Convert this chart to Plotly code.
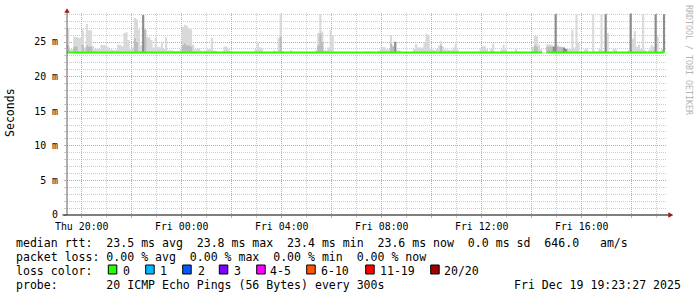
import pandas as pd
import plotly.graph_objects as go

# ---------------- data ----------------
start_time = "2025-12-18 19:25:00"   # first 300 s step
n_steps = 288

# median RTT per 300 s step (ms); None = no data
rtt_median = (
    [23.5] * 12 + [23.5] * 12 + [23.5] * 12 + [23.5] * 12 + [23.5] * 12 + [23.5] * 12 +
    [23.5] * 12 + [23.5] * 12 + [23.5] * 12 + [23.5] * 12 + [23.5] * 12 + [23.5] * 12 +
    [23.5] * 12 + [23.5] * 12 +
    [23.5, 23.5, 23.5, 23.5, 23.5, 23.5, 23.5, 23.5, 23.5, 23.5, 23.4, 23.5] +
    [23.5, 23.5, 23.5, 23.5, 23.5, 23.5, 23.5, 23.5, 23.5, 23.5, 23.5, 23.5] +
    [23.5, 23.5, 23.5, 23.5, 23.5, 23.4, 23.5, 23.5, 23.5, 23.5, 23.5, 23.5] +
    [23.5] * 12 +
    [23.5, 23.5, 23.5, 23.5, 23.5, 23.5, 23.5, 23.5, 23.5, 23.5, 23.5, 23.5] +
    [None, None, 23.5, 23.5, 23.5, 23.5, 23.5, 23.5, 23.5, 23.5, 23.5, 23.5] +
    [23.5] * 12 +
    [23.5, 23.5, 23.5, 23.5, 23.5, 23.5, 23.5, 23.5, 23.5, 23.5, 23.4, 23.5] +
    [23.5] * 12 +
    [23.5, 23.5, 23.5, 23.5, 23.5, 23.5, 23.5, 23.5, 23.5, 23.5, 23.6, None]
)

# highest ping of each step (top of the light smoke), ms
smoke_max = [
    27.0, 24.0, 24.0, 25.8, 25.7, 25.6, 25.6, 26.8, 24.2, 27.6, 26.7, 26.7,
    24.4, 24.0, 23.9, 24.0, 24.6, 24.6, 24.5, 24.3, 24.0, 23.9, 23.8, 23.9,
    24.6, 24.6, 24.4, 26.3, 26.4, 25.3, 24.0, 24.2, 28.5, 28.3, 26.8, 24.5,
    28.9, 26.8, 25.7, 25.7, 25.3, 24.2, 25.7, 24.3, 24.2, 24.9, 24.0, 25.7,
    23.8, 23.9, 23.8, 23.7, 23.7, 23.7, 24.0, 27.2, 27.5, 27.3, 27.0, 26.8,
    24.6, 23.9, 24.0, 24.1, 23.7, 23.7, 23.8, 23.9, 24.0, 25.6, 23.8, 23.7,
    23.6, 23.5, 23.5, 24.3, 24.4, 24.0, 23.7, 23.6, 23.5, 23.5, 23.5, 23.5,
    23.5, 23.5, 23.5, 23.5, 23.5, 23.5, 24.0, 25.0, 24.2, 24.0, 23.5, 23.5,
    23.5, 23.5, 23.5, 23.8, 23.6, 25.6, 29.0, 23.7, 23.5, 23.5, 23.5, 23.8,
    23.5, 23.5, 23.5, 23.5, 23.5, 23.5, 23.5, 23.5, 23.5, 23.5, 23.5, 23.8,
    26.3, 29.0, 26.5, 23.8, 23.8, 24.2, 26.7, 26.0, 23.6, 23.5, 23.5, 23.5,
    23.5, 23.5, 23.5, 23.5, 23.5, 23.5, 23.5, 23.5, 23.5, 23.5, 23.5, 23.5,
    23.7, 23.5, 23.5, 23.5, 23.5, 23.7, 23.9, 24.3, 24.2, 23.9, 24.0, 26.0,
    24.5, 25.1, 23.8, 23.8, 23.5, 23.5, 23.5, 23.5, 23.5, 23.5, 24.0, 24.7,
    24.2, 24.1, 24.2, 25.0, 26.2, 26.0, 24.0, 23.9, 23.8, 24.0, 24.5, 25.1,
    24.3, 23.9, 23.9, 23.8, 23.8, 24.2, 24.7, 23.9, 23.5, 23.5, 23.5, 23.5,
    23.5, 23.5, 23.5, 23.5, 23.5, 23.5, 24.1, 24.4, 24.4, 24.0, 23.5, 24.0,
    24.8, 23.5, 23.5, 23.5, 23.9, 24.6, 23.9, 23.5, 23.5, 23.5, 23.5, 24.0,
    23.5, 23.5, 23.5, 23.5, 23.5, 23.5, 23.5, 24.3, 25.9, 25.8, 24.6, 24.0,
    None, None, 24.7, 24.7, 24.6, 24.5, 29.0, 24.6, 24.4, 24.3, 24.2, 24.0,
    23.9, 24.0, 26.8, 24.2, 29.0, 24.9, 23.5, 23.5, 23.9, 24.1, 23.5, 23.5,
    29.0, 23.6, 23.5, 24.0, 29.0, 23.7, 29.0, 26.3, 23.6, 23.5, 24.0, 23.9,
    23.5, 23.5, 23.5, 23.5, 23.5, 23.8, 29.1, 25.5, 26.6, 24.3, 24.6, 24.0,
    29.0, 23.8, 23.5, 23.9, 24.6, 24.3, 29.0, 25.8, 23.6, 24.0, 29.0, None,
]

# denser (medium grey) smoke: step index -> top (ms)
mid_step = [0, 3, 4, 7, 9, 10, 11, 32, 33, 37, 55, 56, 57, 58, 59, 102, 120, 121,
            122, 155, 156, 179, 224, 225, 230, 231, 232, 235, 236, 237]
mid_top = [24.5, 24.3, 24.3, 24.6, 24.5, 24.3, 24.3, 25.5, 25.0, 26.8, 24.5, 24.8,
           24.5, 24.5, 24.3, 25.8, 24.5, 26.2, 25.0, 24.8, 24.3, 24.5, 24.5, 24.3,
           24.3, 24.4, 24.3, 24.3, 24.3, 24.2]

# densest (dark grey) smoke: step index -> top (ms)
dark_step = [36, 157, 233, 234, 238, 239, 258, 270, 282, 286]
dark_top = [28.9, 25.0, 24.3, 29.0, 24.2, 24.0, 29.0, 29.1, 29.0, 29.0]

loss_labels = ["0", "1", "2", "3", "4-5", "6-10", "11-19", "20/20"]
loss_colors = ["#26ff00", "#00b8ff", "#0059ff", "#7e00ff", "#ff00ff", "#ff5500", "#ff0000", "#a10000"]

y_tick_vals = [0, 5, 10, 15, 20, 25]
y_tick_text = ["0", "5 m", "10 m", "15 m", "20 m", "25 m"]

x_grid_times = ["2025-12-18 20:00", "2025-12-18 22:00", "2025-12-19 00:00", "2025-12-19 02:00",
                "2025-12-19 04:00", "2025-12-19 06:00", "2025-12-19 08:00", "2025-12-19 10:00",
                "2025-12-19 12:00", "2025-12-19 14:00", "2025-12-19 16:00", "2025-12-19 18:00"]
x_grid_text = ["Thu 20:00", "", "Fri 00:00", "", "Fri 04:00", "", "Fri 08:00", "",
               "Fri 12:00", "", "Fri 16:00", ""]

stat_line1 = "median rtt:  23.5 ms avg  23.8 ms max  23.4 ms min  23.6 ms now  0.0 ms sd  646.0   am/s"
stat_line2 = "packet loss: 0.00 % avg  0.00 % max  0.00 % min  0.00 % now"
stat_line3 = "loss color:"
stat_line4 = "probe:       20 ICMP Echo Pings (56 Bytes) every 300s"
stamp_text = "Fri Dec 19 19:23:27 2025"
y_title = "Seconds"
watermark = "RRDTOOL / TOBI OETIKER"

# ---------------- geometry helpers ----------------
W, H = 697, 297
L, R, T, B = 67, 30, 13, 82
PW, PH = W - L - R, H - T - B
MONO = "DejaVu Sans Mono"


def px(x):
    return (x - L) / PW


def py(y):
    return (H - B - y) / PH


edges = list(pd.date_range(start_time, periods=n_steps + 1, freq="5min").strftime("%Y-%m-%d %H:%M:%S"))


def layer_top(steps, tops):
    out = list(rtt_median)
    for s, t in zip(steps, tops):
        out[s] = t
    return out


def stair_polygon(top, base):
    xs, ys = [], []
    k = 0
    while k < n_steps:
        if base[k] is None or top[k] is None:
            k += 1
            continue
        run = []
        while k < n_steps and base[k] is not None and top[k] is not None:
            run.append(k)
            k += 1
        for j in run:
            xs += [edges[j], edges[j + 1]]
            ys += [top[j], top[j]]
        for j in reversed(run):
            xs += [edges[j + 1], edges[j]]
            ys += [base[j], base[j]]
        xs.append(None)
        ys.append(None)
    return xs, ys


def stair_line(vals):
    xs, ys = [], []
    for j, v in enumerate(vals):
        if v is None:
            xs.append(None)
            ys.append(None)
        else:
            xs += [edges[j], edges[j + 1]]
            ys += [v, v]
    return xs, ys


fig = go.Figure()

layers = [
    (smoke_max, "#d9d9d9"),
    (layer_top(mid_step, mid_top), "#bcbcbc"),
    (layer_top(dark_step, dark_top), "#8c8c8c"),
]
for top, col in layers:
    xs, ys = stair_polygon(top, rtt_median)
    fig.add_trace(go.Scatter(x=xs, y=ys, mode="lines", fill="toself", fillcolor=col,
                             line=dict(width=0, color=col), hoverinfo="skip", showlegend=False))

mx, my = stair_line(rtt_median)
fig.add_trace(go.Scatter(x=mx, y=my, mode="lines", line=dict(color=loss_colors[0], width=2),
                         connectgaps=False, hoverinfo="skip", showlegend=False))

ymax = 202 / 6.92

fig.update_layout(
    width=W, height=H, autosize=False,
    margin=dict(l=L, r=R, t=T, b=B, pad=0),
    paper_bgcolor="white", plot_bgcolor="white",
    font=dict(family=MONO, size=10, color="#000"),
    xaxis=dict(
        type="date",
        range=["2025-12-18 19:24:40", "2025-12-19 19:24:40"],
        tickmode="array", tickvals=x_grid_times, ticktext=x_grid_text,
        showgrid=True, gridcolor="#e39a9a", griddash="1px,1px", gridwidth=1,
        ticks="outside", ticklen=2, tickcolor="#e39a9a",
        tickfont=dict(family=MONO, size=9.9, color="#000"),
        ticklabelstandoff=0,
        showline=False, zeroline=False,
        minor=dict(dtick=3600000, tick0="2025-12-18 20:00", showgrid=True,
                   gridcolor="#cccccc", griddash="1px,1px", gridwidth=1,
                   ticks="outside", ticklen=2, tickcolor="#cccccc"),
    ),
    yaxis=dict(
        range=[0, ymax],
        tickmode="array", tickvals=y_tick_vals, ticktext=y_tick_text,
        showgrid=True, gridcolor="#e39a9a", griddash="1px,1px", gridwidth=1,
        ticks="outside", ticklen=2, tickcolor="#e39a9a",
        tickfont=dict(family=MONO, size=9.9, color="#000"),
        ticklabelstandoff=4,
        showline=False, zeroline=False,
        minor=dict(dtick=1, tick0=0, showgrid=True, gridcolor="#cccccc",
                   griddash="1px,1px", gridwidth=1,
                   ticks="outside", ticklen=2, tickcolor="#cccccc"),
    ),
)

shapes = []
# y axis line + arrow
shapes.append(dict(type="line", xref="paper", yref="paper", x0=px(67), x1=px(67), y0=py(215), y1=py(11),
                   line=dict(color="#606060", width=1)))
shapes.append(dict(type="path", xref="paper", yref="paper",
                   path=f"M {px(64.3)},{py(12.8)} L {px(69.7)},{py(12.8)} L {px(67)},{py(8.3)} Z",
                   fillcolor="#9b1c1c", line=dict(width=0)))
# x axis line + arrow
shapes.append(dict(type="line", xref="paper", yref="paper", x0=px(62.5), x1=px(669), y0=py(215), y1=py(215),
                   line=dict(color="#000000", width=1)))
shapes.append(dict(type="path", xref="paper", yref="paper",
                   path=f"M {px(668.3)},{py(212.3)} L {px(668.3)},{py(217.7)} L {px(673.3)},{py(215)} Z",
                   fillcolor="#9b1c1c", line=dict(width=0)))

# loss colour boxes
box_left = [108.3, 145.7, 182.7, 219.3, 256.7, 306.7, 365.7, 430.7]
label_left = [122.8, 159.5, 197.5, 234.0, 269.5, 320.5, 379.5, 444.0]
for bx, col in zip(box_left, loss_colors):
    shapes.append(dict(type="rect", xref="paper", yref="paper",
                       x0=px(bx), x1=px(bx + 8.5), y0=py(274), y1=py(265),
                       fillcolor=col, line=dict(color="#000000", width=1)))

NB = "\u00a0"


def ann(text, x, y, size=11.56, xanchor="left", angle=0, color="#000"):
    return dict(text=text.replace(" ", NB), x=px(x), y=py(y), xref="paper", yref="paper",
                xanchor=xanchor, yanchor="middle", showarrow=False, textangle=angle,
                font=dict(family=MONO, size=size, color=color), borderpad=0, borderwidth=0)


annotations = [
    ann(stat_line1, 15.5, 242.8),
    ann(stat_line2, 15.5, 256.8),
    ann(stat_line3, 15.5, 270.6),
    ann(stat_line4, 15.5, 284.8),
    ann(stamp_text, 681, 284.8, xanchor="right"),
    dict(text=y_title, x=px(10), y=py(113), xref="paper", yref="paper", xanchor="center",
         yanchor="middle", showarrow=False, textangle=-90,
         font=dict(family=MONO, size=11.56, color="#000")),
    dict(text=watermark.replace(" ", NB), x=px(689), y=py(60), xref="paper", yref="paper",
         xanchor="center", yanchor="middle", showarrow=False, textangle=90,
         font=dict(family=MONO, size=8.3, color="#b4b4b4")),
]
for lab, lx in zip(loss_labels, label_left):
    annotations.append(ann(lab, lx, 270.6))

fig.update_layout(shapes=shapes, annotations=annotations)

fig.write_html("out.html")
